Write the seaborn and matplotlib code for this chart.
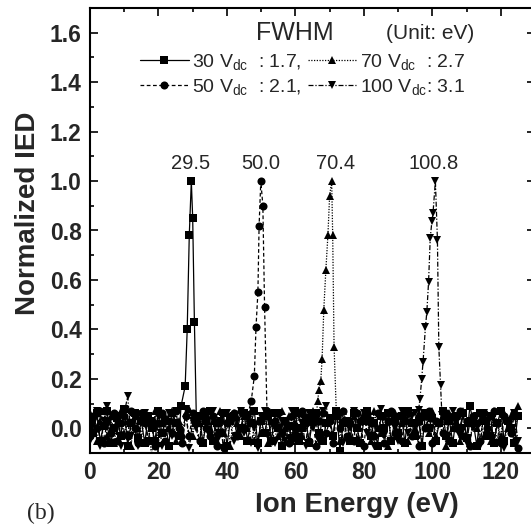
import matplotlib
matplotlib.use("Agg")
import matplotlib.pyplot as plt
import seaborn as sns
import numpy as np
import pandas as pd
from matplotlib.ticker import MultipleLocator

# ---------------- data ----------------
energy_grid = list(range(0, 126))

noise_30 = [0.03, -0.02, 0.06, -0.05, 0.01, 0.07, -0.06, 0.00, 0.04, -0.03,
            0.08, -0.07, 0.02, 0.06, -0.04, 0.03, -0.06, 0.05, 0.00, -0.05,
            0.07, -0.02, 0.03, -0.07, 0.06, 0.02, -0.03, 0.05, 0.00, 0.02,
            0.00, -0.03, 0.05, -0.06, 0.03, 0.07, -0.05, 0.02, -0.02, 0.06,
            -0.07, 0.03, 0.05, -0.03, 0.00, 0.06, -0.05, 0.02, 0.07, -0.06,
            0.03, -0.02, 0.05, -0.05, 0.06, 0.00, -0.07, 0.03, 0.01, -0.04,
            0.07, -0.05, 0.00, 0.04, -0.06, 0.03, 0.06, -0.02, -0.05, 0.02,
            0.04, -0.03, 0.07, -0.09, 0.02, 0.03, -0.05, 0.06, 0.00, -0.06,
            0.03, 0.07, -0.03, 0.02, -0.07, 0.05, 0.00, 0.06, -0.05, 0.03,
            -0.02, 0.05, -0.06, 0.07, 0.02, -0.03, 0.03, -0.07, 0.06, 0.00,
            0.04, -0.05, 0.02, 0.07, -0.03, 0.03, -0.06, 0.05, 0.00, 0.06,
            -0.04, 0.09, 0.02, -0.07, 0.06, 0.03, -0.03, 0.05, -0.06, 0.02,
            0.07, -0.05, 0.03, 0.00, -0.06, 0.05]
noise_50 = [-0.03, 0.05, 0.00, 0.07, -0.06, 0.03, -0.02, 0.06, -0.05, 0.02,
            0.05, -0.03, 0.07, 0.00, -0.06, 0.06, 0.02, -0.05, 0.03, -0.07,
            0.02, 0.06, -0.05, 0.03, -0.02, 0.07, 0.00, -0.06, 0.05, -0.03,
            0.06, 0.02, -0.05, 0.07, 0.00, -0.03, 0.05, -0.07, 0.03, -0.08,
            0.02, 0.05, 0.06, -0.03, 0.07, 0.00, 0.05, 0.03, 0.03, 0.03,
            0.02, 0.00, 0.05, -0.05, 0.03, 0.06, -0.02, 0.03, -0.06, 0.05,
            0.00, -0.03, 0.07, 0.02, -0.05, 0.05, -0.07, 0.03, 0.06, -0.02,
            0.03, -0.06, 0.05, 0.00, 0.07, -0.03, 0.02, -0.05, 0.06, 0.03,
            -0.07, 0.05, 0.02, -0.03, 0.06, 0.00, -0.06, 0.03, 0.07, -0.02,
            0.05, -0.05, 0.03, 0.06, -0.03, 0.02, -0.07, 0.05, 0.00, 0.07,
            -0.06, 0.03, 0.02, -0.02, 0.06, -0.05, 0.05, 0.00, 0.07, -0.03,
            0.03, -0.07, 0.05, 0.02, -0.05, 0.06, 0.00, -0.03, 0.07, 0.02,
            -0.06, 0.05, 0.03, -0.02, 0.06, -0.08]
noise_70 = [0.06, 0.02, -0.05, 0.03, 0.07, -0.03, 0.05, -0.06, 0.02, 0.07,
            -0.02, 0.03, -0.07, 0.05, 0.00, -0.05, 0.06, 0.03, -0.12, 0.07,
            -0.06, 0.02, 0.05, 0.00, 0.07, -0.05, 0.03, -0.02, 0.06, 0.08,
            -0.03, 0.05, 0.02, -0.06, 0.06, 0.00, 0.03, -0.05, 0.07, -0.02,
            0.03, -0.07, 0.06, 0.02, -0.03, 0.05, 0.00, 0.07, -0.05, 0.03,
            -0.02, 0.06, -0.06, 0.03, 0.02, -0.03, 0.07, 0.00, 0.05, -0.05,
            0.02, 0.06, -0.03, 0.05, -0.06, 0.07, 0.03, 0.06, 0.08, 0.07,
            0.05, 0.06, 0.03, -0.05, 0.07, 0.02, -0.03, 0.05, 0.00, -0.06,
            0.06, 0.03, -0.05, 0.07, 0.00, -0.02, 0.05, -0.07, 0.03, 0.06,
            -0.03, 0.02, 0.07, -0.05, 0.03, 0.00, 0.06, -0.06, 0.05, -0.02,
            0.07, -0.03, 0.02, 0.05, -0.07, 0.06, 0.00, 0.03, -0.05, 0.07,
            0.02, -0.06, 0.05, 0.00, 0.06, -0.03, 0.03, -0.05, 0.07, 0.02,
            -0.03, 0.06, 0.00, 0.05, -0.05, 0.09]
noise_100 = [-0.05, 0.02, 0.07, -0.07, 0.03, 0.09, -0.06, 0.00, 0.05, -0.07,
             0.06, 0.13, -0.03, 0.05, -0.07, 0.02, 0.06, -0.05, 0.03, 0.00,
             0.05, -0.07, 0.02, 0.06, -0.03, 0.07, 0.00, -0.05, 0.08, -0.08,
             0.03, 0.00, -0.06, 0.05, 0.02, -0.03, 0.07, -0.05, 0.03, -0.08,
             0.06, 0.02, -0.05, 0.03, 0.07, -0.02, 0.05, -0.06, 0.00, -0.08,
             0.05, 0.07, -0.03, 0.02, -0.06, 0.06, 0.03, -0.05, 0.00, 0.07,
             -0.03, 0.05, 0.02, -0.07, 0.06, 0.00, 0.03, -0.05, 0.07, 0.09,
             0.02, -0.03, 0.06, 0.05, -0.06, 0.03, 0.00, 0.07, -0.05, 0.02,
             0.06, -0.02, 0.03, -0.07, 0.05, 0.08, -0.03, 0.02, 0.06, 0.00,
             -0.05, 0.07, 0.03, -0.02, 0.05, 0.06, 0.03, 0.05, 0.06, 0.05,
             0.03, 0.00, 0.05, 0.06, 0.03, -0.05, 0.07, 0.02, -0.03, 0.06,
             -0.06, 0.03, 0.00, 0.05, -0.07, 0.06, 0.02, -0.03, 0.05, -0.06,
             0.07, -0.08, 0.03, 0.00, 0.06, -0.05]

peak_x_30 = [26.6, 27.8, 28.4, 29.0, 29.6, 30.0, 30.5, 31.1]
peak_y_30 = [0.09, 0.17, 0.40, 0.78, 1.00, 0.85, 0.43, 0.02]
peak_x_50 = [47.1, 48.0, 48.5, 49.05, 49.4, 49.9, 50.5, 51.0, 51.7]
peak_y_50 = [0.11, 0.21, 0.41, 0.55, 0.82, 1.00, 0.90, 0.49, 0.07]
peak_x_70 = [66.5, 66.9, 67.4, 67.8, 68.3, 68.9, 69.5, 70.0, 70.6, 70.9, 71.3, 72.0]
peak_y_70 = [0.11, 0.155, 0.19, 0.28, 0.48, 0.64, 0.78, 0.94, 1.00, 0.78, 0.33, 0.05]
peak_x_100 = [96.0, 96.4, 96.9, 97.3, 98.0, 98.4, 98.9, 99.4, 99.9, 100.2, 100.9,
              101.5, 101.9, 102.4, 102.8]
peak_y_100 = [0.075, 0.12, 0.20, 0.27, 0.41, 0.47, 0.59, 0.77, 0.84, 0.87, 1.00,
              0.76, 0.33, 0.175, 0.055]

series_names = ["30", "50", "70", "100"]
fwhm_values = ["1.7", "2.1", "2.7", "3.1"]
peak_labels = ["29.5", "50.0", "70.4", "100.8"]
peak_label_x = [29.5, 49.9, 71.8, 100.4]

# ---------------- style ----------------
sns.set_theme(style="ticks")
plt.rcParams["font.family"] = ["Liberation Sans", "DejaVu Sans"]
plt.rcParams["mathtext.fontset"] = "custom"
plt.rcParams["mathtext.rm"] = "Liberation Sans"
plt.rcParams["mathtext.it"] = "Liberation Sans"

W, H = 531, 527
fig = plt.figure(figsize=(W / 100, H / 100), dpi=100)
ax_left, ax_top, ax_right, ax_bottom = 90, 8, 535, 453
ax = fig.add_axes([ax_left / W, 1 - ax_bottom / H,
                   (ax_right - ax_left) / W, (ax_bottom - ax_top) / H])


def build(noise, px, py):
    lo, hi = min(px) - 0.5, max(px) + 0.5
    xs = [e for e in energy_grid if not (lo < e < hi)]
    ys = [n for e, n in zip(energy_grid, noise) if not (lo < e < hi)]
    df = pd.DataFrame({"x": xs + px, "y": ys + py}).sort_values("x")
    return df


noises = [noise_30, noise_50, noise_70, noise_100]
pxs = [peak_x_30, peak_x_50, peak_x_70, peak_x_100]
pys = [peak_y_30, peak_y_50, peak_y_70, peak_y_100]
markers = ["s", "o", "^", "v"]
lstyles = ["-", (0, (3, 2)), (0, (1, 1.2)), (0, (4, 1.5, 1, 1.5))]

handles = []
for name, nz, px, py, mk, ls in zip(series_names, noises, pxs, pys, markers, lstyles):
    df = build(nz, px, py)
    sns.lineplot(data=df, x="x", y="y", ax=ax, color="black", marker=mk,
                 markersize=5.8, markeredgewidth=0, linewidth=0.9,
                 linestyle=ls, estimator=None, sort=False)
    handles.append(ax.get_lines()[-1])

labels = [rf"{n} V$_{{\mathregular{{dc}}}}$  : {f}," if i < 2 else
          rf"{n} V$_{{\mathregular{{dc}}}}$  : {f}" for i, (n, f) in
          enumerate(zip(series_names, fwhm_values))]
labels[3] = rf"100 V$_{{\mathregular{{dc}}}}$: {fwhm_values[3]}"

leg = ax.legend(handles, labels, ncol=2, frameon=False, loc="upper left",
                bbox_to_anchor=((140 - ax_left) / (ax_right - ax_left), 1 - (52 - ax_top) / (ax_bottom - ax_top)),
                fontsize=14, handlelength=2.5, handletextpad=0.2,
                columnspacing=0.3, labelspacing=0.25, borderaxespad=0, borderpad=0)

ax.text(59.9, 1.598, "FWHM", ha="center", va="center", fontsize=18)
ax.text(99.3, 1.598, "(Unit: eV)", ha="center", va="center", fontsize=15)

for lx, lt in zip(peak_label_x, peak_labels):
    ax.text(lx, 1.073, lt, ha="center", va="center", fontsize=14.5)

ax.set_xlim(0, 130)
ax.set_ylim(-0.1, 1.7)
ax.xaxis.set_minor_locator(MultipleLocator(10))
ax.yaxis.set_minor_locator(MultipleLocator(0.1))
ax.set_xticks(np.arange(0, 121, 20))
ax.set_xticklabels([f"{v}" for v in range(0, 121, 20)])
ax.set_yticks(np.arange(0, 1.61, 0.2))
ax.set_yticklabels([f"{v:.1f}" for v in np.arange(0, 1.61, 0.2)])
ax.tick_params(which="both", direction="in", top=True, right=True, width=1.2, color="black")
ax.tick_params(which="major", length=6, labelsize=16.5, pad=6)
ax.tick_params(which="minor", length=3)
for lab in ax.get_xticklabels() + ax.get_yticklabels():
    lab.set_fontweight("bold")
for sp in ax.spines.values():
    sp.set_linewidth(1.5)
    sp.set_color("black")

ax.set_xlabel("Ion Energy (eV)", fontsize=20, fontweight="bold")
ax.set_ylabel("Normalized IED", fontsize=20, fontweight="bold")
ax.xaxis.set_label_coords((357 - ax_left) / (ax_right - ax_left), -(505 - ax_bottom) / (ax_bottom - ax_top))
ax.xaxis.label.set_va("center")
ax.yaxis.set_label_coords(-(90 - 28) / (ax_right - ax_left), (ax_bottom - 213) / (ax_bottom - ax_top))
ax.yaxis.label.set_va("center")

fig.text(41 / W, 1 - 513 / H, "(b)", ha="center", va="center", fontsize=17,
         family=["Liberation Serif", "DejaVu Serif"])

fig.savefig("out.png", dpi=100)
